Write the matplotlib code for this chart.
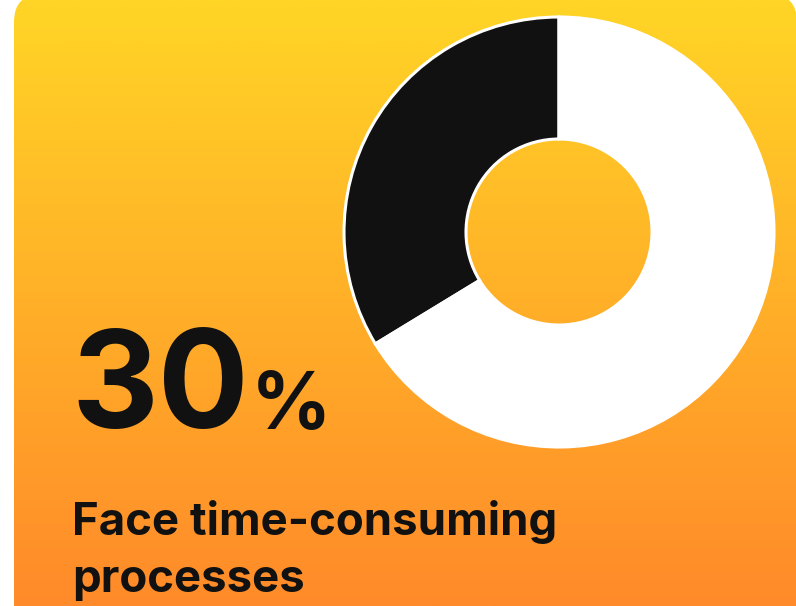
import numpy as np
import matplotlib
matplotlib.use("Agg")
import matplotlib.pyplot as plt
from matplotlib.patches import FancyBboxPatch
from matplotlib.colors import LinearSegmentedColormap

# Share of respondents and the remaining part of the ring
share_value = 30
rest_value = 59
ring_values = [share_value, rest_value]
ring_colors = ["#111111", "#ffffff"]

headline = f"{share_value}"
caption_lines = ["Face time-consuming", "processes"]

W, H = 796, 606
fig = plt.figure(figsize=(W / 100, H / 100), dpi=100)
fig.patch.set_facecolor("white")
ax = fig.add_axes([0, 0, 1, 1])

# Card with vertical yellow-to-orange gradient
card = FancyBboxPatch((14, -40), 783, 652, boxstyle="round,pad=0,rounding_size=28",
                      linewidth=0, facecolor="none")
ax.add_patch(card)
grad_cmap = LinearSegmentedColormap.from_list("card", ["#ff8a2a", "#ffd526"])
grad = np.linspace(0, 1, 512).reshape(-1, 1)
img = ax.imshow(grad, cmap=grad_cmap, origin="lower", aspect="auto",
                extent=(14, 797, 0, 606), zorder=1, interpolation="bilinear")
img.set_clip_path(card)

# Donut ring
cx, cy, R, r_in = 559, H - 232, 215, 93
ax.pie(ring_values, colors=ring_colors, startangle=90, counterclock=True,
       center=(cx, cy), radius=R,
       wedgeprops=dict(width=R - r_in, edgecolor="white", linewidth=2.2, zorder=3))

# Headline figure and caption
font = ["Inter", "DejaVu Sans"]
ax.text(71, H - 428, headline, fontsize=97, fontweight="bold", color="#111111",
        family=font, ha="left", va="baseline", zorder=4)
ax.text(251, H - 429, "%", fontsize=57, fontweight="bold", color="#111111",
        family=font, ha="left", va="baseline", zorder=4)
for line, base in zip(caption_lines, [535, 592]):
    ax.text(72, H - base, line, fontsize=32.8, fontweight="bold", color="#111111",
            family=font, ha="left", va="baseline", zorder=4)

ax.set_xlim(0, W)
ax.set_ylim(0, H)
ax.set_aspect("auto")
ax.axis("off")

fig.savefig("out.png", dpi=100, facecolor=fig.get_facecolor())
